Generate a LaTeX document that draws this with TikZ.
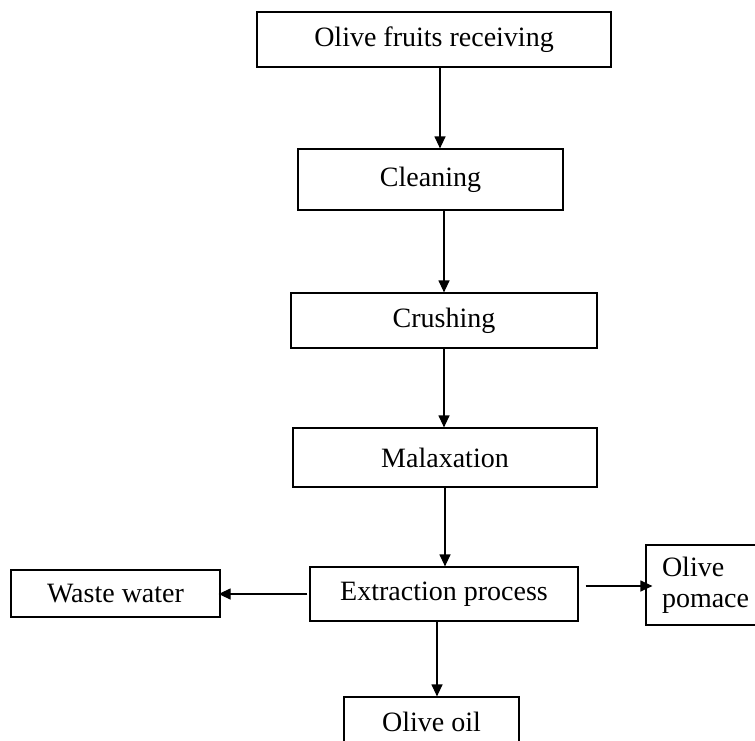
\documentclass[tikz,border=0pt]{standalone}
\usepackage{fontspec}
\setmainfont{Liberation Serif}
\usetikzlibrary{arrows.meta}
\begin{document}
\begin{tikzpicture}[x=1pt,y=-1pt,
  box/.style={draw,line width=1.2pt,inner sep=0pt,anchor=center,
    font=\fontsize{28}{31}\selectfont},
  arr/.style={line width=1.2pt,-{Triangle[length=12pt,width=11pt]}}]
\useasboundingbox (0,0) rectangle (755,740);
\clip (0,0) rectangle (755,740);
\node[box,minimum width=354pt,minimum height=55pt] (b1) at (434,39.5) {Olive fruits receiving};
\node[box,minimum width=265pt,minimum height=61pt] (b2) at (430.5,179.5) {Cleaning};
\node[box,minimum width=306pt,minimum height=55pt] (b3) at (444,320.5) {Crushing};
\node[box,minimum width=304pt,minimum height=59pt] (b4) at (445,457.5) {Malaxation};
\node[box,minimum width=268pt,minimum height=54pt] (b5) at (444,594) {Extraction process};
\node[box,minimum width=209pt,minimum height=47pt] (ww) at (115.5,593.5) {Waste water};
\node[box,minimum height=80pt,inner xsep=16pt,text width=92pt,align=left] (pom) at (708,585) {Olive\\pomace};
\node[box,minimum width=175pt,minimum height=50pt] (oil) at (431.5,722) {Olive oil};
\draw[arr] ([xshift=6pt]b1.south) -- ([xshift=6pt]b1.south |- b2.north);
\draw[arr] ([xshift=13.5pt]b2.south) -- ([xshift=13.5pt]b2.south |- b3.north);
\draw[arr] (b3.south) -- (b3.south |- b4.north);
\draw[arr] (b4.south) -- (b4.south |- b5.north);
\draw[arr] ([xshift=-7pt]b5.south) -- ([xshift=-7pt]b5.south |- oil.north);
\draw[arr] ([xshift=-2pt]b5.west) -- ([xshift=-2pt]b5.west -| ww.east);
\draw[arr] ([xshift=7pt,yshift=8pt]b5.east) -- ([xshift=7pt,yshift=8pt]b5.east -| pom.west);
\end{tikzpicture}
\end{document}
